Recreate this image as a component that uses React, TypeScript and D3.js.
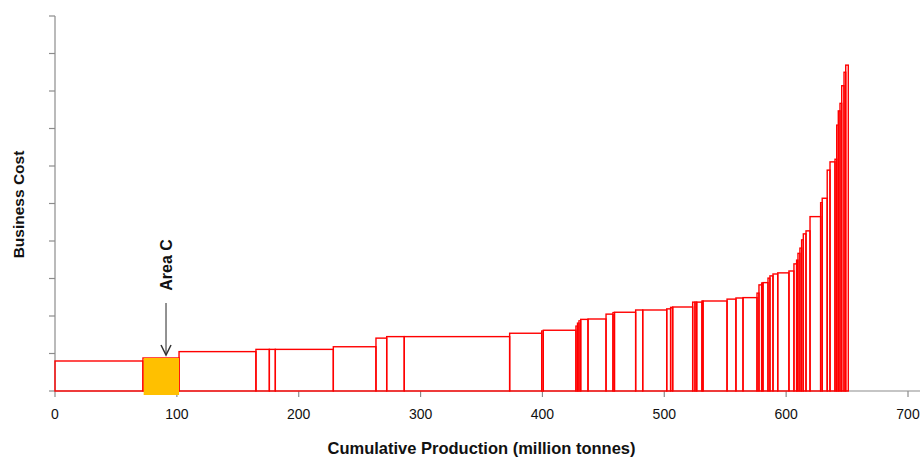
import React, { useEffect, useRef } from 'react';
import * as d3 from 'd3';

// production of each mine (million tonnes), sorted by business cost
const production = [
  72.2, 29.6, 63.1, 11.0, 4.9, 47.6, 35.0, 8.8, 14.4, 86.5, 26.3, 1.3, 26.8, 1.3, 1.2, 1.4,
  6.0, 14.8, 5.7, 1.2, 17.4, 5.8, 19.7, 3.2, 1.7, 16.4, 1.9, 1.4, 4.3, 0.9, 19.7, 7.3,
  5.8, 11.5, 1.6, 2.2, 1.1, 4.1, 1.6, 2.5, 3.9, 9.2, 4.1, 2.2, 1.1, 1.6, 1.4, 1.4,
  2.2, 3.3, 8.7, 1.3, 4.1, 2.3, 4.1, 1.4, 1.3, 1.4, 1.4, 1.9, 1.4, 2.1
];
const cost = [
  0.80, 0.88, 1.05, 1.11, 1.11, 1.11, 1.18, 1.41, 1.45, 1.45, 1.54, 1.60, 1.62, 1.73, 1.81, 1.87,
  1.91, 1.92, 2.05, 2.09, 2.10, 2.16, 2.16, 2.19, 2.23, 2.24, 2.37, 2.37, 2.37, 2.40, 2.40, 2.45,
  2.48, 2.49, 2.61, 2.83, 2.88, 2.89, 3.01, 3.07, 3.12, 3.15, 3.20, 3.39, 3.49, 3.67, 3.81, 4.03,
  4.19, 4.27, 4.65, 5.02, 5.14, 5.89, 6.11, 6.18, 7.09, 7.47, 7.67, 8.14, 8.50, 8.69
];
const highlightIndex = 1; // "Area C"
const highlightLabel = "Area C";
const xTicks = [0, 100, 200, 300, 400, 500, 600, 700];
const yTicks = [0, 1, 2, 3, 4, 5, 6, 7, 8, 9, 10];

export default function App() {
  const svgRef = useRef(null);

  const W = 924;
  const H = 459;
  const MARGIN = { top: 16, right: 16, bottom: 68, left: 55 };

  useEffect(() => {
    const svg = d3.select(svgRef.current);
    svg.selectAll("*").remove();

    const x = d3.scaleLinear().domain([0, 700]).range([MARGIN.left, 908]);
    const y = d3.scaleLinear().domain([0, 10]).range([H - MARGIN.bottom, MARGIN.top]);

    // build cumulative bars
    let cum = 0;
    const bars = production.map((p, i) => {
      const d = { x0: cum, x1: cum + p, cost: cost[i], i };
      cum += p;
      return d;
    });

    const axisColor = "#8c8c8c";
    const font = "Liberation Sans, Arial, sans-serif";

    // x axis line
    svg.append("line")
      .attr("x1", MARGIN.left).attr("x2", W - 4)
      .attr("y1", y(0)).attr("y2", y(0))
      .attr("stroke", axisColor).attr("stroke-width", 1.2);

    // y axis line
    svg.append("line")
      .attr("x1", x(0)).attr("x2", x(0))
      .attr("y1", y(10)).attr("y2", y(0))
      .attr("stroke", axisColor).attr("stroke-width", 1.2);

    // x ticks
    xTicks.forEach(t => {
      svg.append("line")
        .attr("x1", x(t)).attr("x2", x(t))
        .attr("y1", y(0)).attr("y2", y(0) + 6)
        .attr("stroke", axisColor).attr("stroke-width", 1.2);
      svg.append("text")
        .attr("x", x(t))
        .attr("y", y(0) + 28)
        .attr("text-anchor", "middle")
        .style("font-family", font)
        .style("font-size", "14px")
        .style("fill", "#111")
        .text(t);
    });

    // y ticks (no labels)
    yTicks.forEach(t => {
      svg.append("line")
        .attr("x1", x(0) - 6).attr("x2", x(0))
        .attr("y1", y(t)).attr("y2", y(t))
        .attr("stroke", axisColor).attr("stroke-width", 1.2);
    });

    // bars
    svg.append("g")
      .selectAll("rect")
      .data(bars)
      .join("rect")
      .attr("x", d => x(d.x0))
      .attr("y", d => y(d.cost))
      .attr("width", d => x(d.x1) - x(d.x0))
      .attr("height", d => y(0) - y(d.cost))
      .attr("fill", "none")
      .attr("stroke", "#ff0000")
      .attr("stroke-width", 1.4);

    // highlighted bar
    const hb = bars[highlightIndex];
    svg.append("rect")
      .attr("x", x(hb.x0) + 0.7)
      .attr("y", y(hb.cost))
      .attr("width", x(hb.x1) - x(hb.x0) - 0.7)
      .attr("height", y(0) - y(hb.cost) + 4)
      .attr("fill", "#ffc000");

    // arrow + label
    const ax = (x(hb.x0) + x(hb.x1)) / 2 + 5;
    const tipY = y(hb.cost) - 3;
    svg.append("line")
      .attr("x1", ax).attr("x2", ax)
      .attr("y1", tipY - 52).attr("y2", tipY)
      .attr("stroke", "#6e6e6e").attr("stroke-width", 1.5);
    svg.append("path")
      .attr("d", `M${ax - 5},${tipY - 10}L${ax},${tipY}L${ax + 5},${tipY - 10}`)
      .attr("fill", "none")
      .attr("stroke", "#333").attr("stroke-width", 1.5);
    svg.append("text")
      .attr("transform", `translate(${ax + 6},${tipY - 90}) rotate(-90)`)
      .attr("text-anchor", "middle")
      .style("font-family", font)
      .style("font-size", "16px")
      .style("font-weight", "700")
      .style("fill", "#111")
      .text(highlightLabel);

    // axis titles
    svg.append("text")
      .attr("x", (x(0) + x(700)) / 2)
      .attr("y", 454)
      .attr("text-anchor", "middle")
      .style("font-family", font)
      .style("font-size", "16.5px")
      .style("font-weight", "700")
      .style("fill", "#111")
      .text("Cumulative Production (million tonnes)");

    svg.append("text")
      .attr("transform", `translate(24,${(y(0) + y(10)) / 2 + 1}) rotate(-90)`)
      .attr("text-anchor", "middle")
      .style("font-family", font)
      .style("font-size", "15.5px")
      .style("font-weight", "700")
      .style("fill", "#111")
      .text("Business Cost");
  }, []);

  return (
    <svg ref={svgRef} width={W} height={H}
      style={{ position: "absolute", left: 0, top: 0, background: "#fff" }} />
  );
}
